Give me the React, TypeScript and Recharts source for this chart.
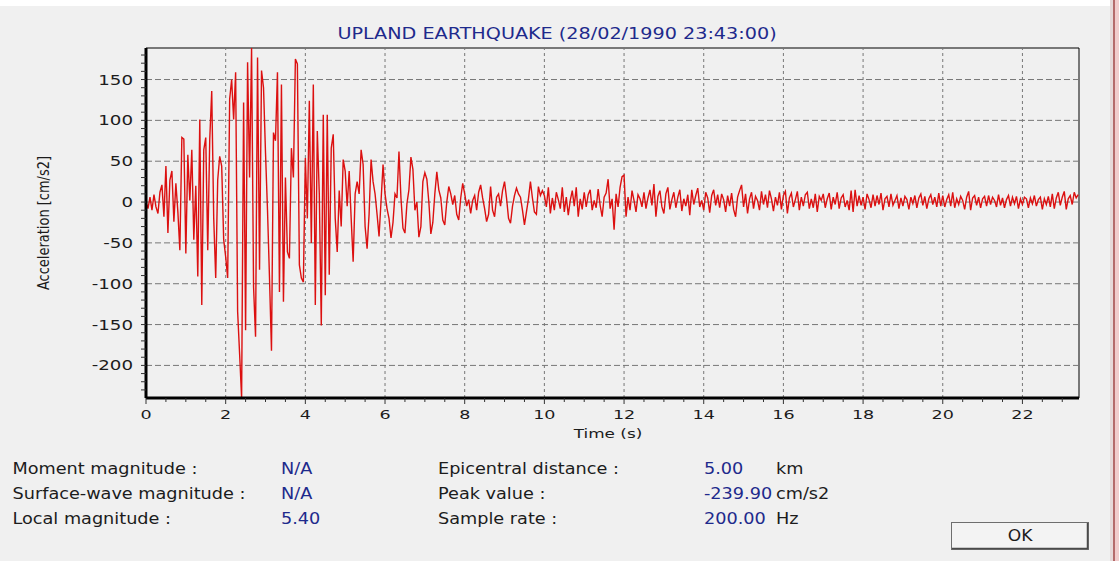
import React from 'react';
import { LineChart, Line, XAxis, YAxis, ReferenceLine, ReferenceArea } from 'recharts';

// Accelerogram samples, cm/s2, one value every STEP_S seconds per segment
const STEP_S = 0.05;

const onsetStart = 0;
const onsetAccel = [
  0, -8, 6, -10, 9, -6, -14, 12, 21, -18,
  44, -38, 27, 38, -24, 23, -12, -59, 79, 77,
  -63, 58, 2, 64, -46, 20, -91, 101, -126, 64,
  79, -59, 77, 136, -20, -93, 27, 56, 44, -46,
];

const strongStart = 2;
const strongAccel = [
  -67, -93, 126, 150, 101, 159, -134, -186, -239.9, 122,
  -157, 171, 30, 188.6, -104, -165, 177, -83, 161, 140,
  60, -10, -93, -182, 85, 75, 159, -110, 144, -122,
  30, -61, -69, 66, 30, 175, 169, -77, -93, -98,
  54, -20, 124, -50, 144, -126, 87, 10, -151, 107,
  -114, 107, -89, 66, 83, -20, -61, 14, -30, 52,
];

const codaStart = 5;
const codaAccel = [
  38, -5, 38, -20, -73, 10, 25, 10, 64, 46,
  -30, -57, -15, 52, 25, 10, -15, -42, 1, 46,
  10, -8, -20, -44, -25, 10, 5, 62, 5, -32,
  -38, -2, 15, 55, 40, -10, 0, -43, -30, 25,
  36, 28, 0, -39, -25, 10, 37, 15, 5, -22,
  -28, 0, 19, 10, -3, 8, -15, -22, 5, 23,
  10, -5, 3, -14, 2, 8, -10, 12, 21, 5,
  -8, -24, -15, 19, -10, -18, 6, 10, -5, 14,
  25, 5, -20, -26, -5, 8, 17, 10, 6, -10,
  -28, -12, 4, 25, 5, -12, -15, 19, 8, 14,
];

const tailAStart = 10;
const tailAAccel = [
  8, -6, 18, -14, 5, -10, 12, 3, -8, 18, -12, 6, -16, 2, 14, -5, 18, -18, 4, -9,
  12, -6, 9, 15, -10, 2, -7, 16, -4, -18, 6, 11, 28, -8, 4, -34, 10, -6, 18, 31,
  33, -18, 6, -10, 14, 2, -12, 9, 4, -6, 12, -8, 5, 15, -4, 22, -18, 7, 14, -6,
  -14, 10, 18, -9, 3, 12, -7, 6, 15, -11, 4, -5, 9, -16, 15, -3, 8, 17, -6, 2,
  -10, 12, 5, -13, 8, 15, -4, 9, -7, 10, 3, -12, 8, -5, 11, -9, -18, 6, 14, 21,
  -6, 10, -14, 4, 12, -8, 7, 2, -10, 13, -3, 9, -7, 14, 4, -11, 6, -4, 12, -9,
  8, 13, -14, 5, 11, -6, 3, 13, -10, 6, -5, 9, 12, -8, 4, -7, 10, -12, 7, 2,
];

const tailBStart = 17;
const tailBAccel = [
  10, -7, 4, 11, -9, 6, -3, 12, -8, 5, 9, -6, 2, -10, 14, -12, 15, -5, 8, -4,
  6, -9, 10, 3, -7, 9, -5, 8, -3, 11, -10, 4, 7, -6, 10, -4, 2, 8, -8, 5,
  -5, 7, 3, -9, 6, -2, 8, -7, 5, 10, -4, 7, -8, 4, 9, -3, 6, -6, 11, -5,
  8, -6, 3, 9, -5, 12, -7, 4, -3, 7, 2, -9, 6, 13, -10, 5, 8, -4, 6, -7,
  4, 7, -5, 8, -3, 6, 2, -6, 9, -4, 5, -7, 3, 8, -5, 6, -2, 7, -8, 4,
  -3, 6, 4, -7, 5, -2, 8, -5, 3, 6, -9, 4, -3, 7, -6, 10, -8, 5, 12, -4,
  6, 13, -9, 4, 8, -3, 12, 5, 9,
];

const recordEnd = 23.42;
const timeLabels = [0, 2, 4, 6, 8, 10, 12, 14, 16, 18, 20, 22];
const accelLabels = [-200, -150, -100, -50, 0, 50, 100, 150];

const title = 'UPLAND EARTHQUAKE (28/02/1990 23:43:00)';
const magnitudeFields = [
  ['Moment magnitude :', 'N/A'],
  ['Surface-wave magnitude :', 'N/A'],
  ['Local magnitude :', '5.40'],
];
const recordFields = [
  ['Epicentral distance :', '5.00', 'km'],
  ['Peak value :', '-239.90', 'cm/s2'],
  ['Sample rate :', '200.00', 'Hz'],
];

const segments: [number, number[]][] = [
  [onsetStart, onsetAccel],
  [strongStart, strongAccel],
  [codaStart, codaAccel],
  [tailAStart, tailAAccel],
  [tailBStart, tailBAccel],
];

const record = segments.flatMap(([start, vals]) =>
  vals.map((a, i) => ({ t: Math.round((start + i * STEP_S) * 100) / 100, a }))
);

const allAccel = segments.flatMap(([, v]) => v);
const accelMin = Math.min(...allAccel);
const accelMax = Math.max(...allAccel);

// minor tick positions: every 10 cm/s2 and every 0.5 s
const accelTicks: number[] = [];
for (let v = Math.ceil(accelMin / 10) * 10; v <= accelMax; v += 10) accelTicks.push(v);
const timeTicks: number[] = [];
for (let k = 0; k * 0.5 <= recordEnd; k++) timeTicks.push(k * 0.5);

const FONT = '"DejaVu Sans", Verdana, sans-serif';
const NAVY = '#1e2a8c';
const INK = '#1c1c1c';

function Txt(props: {
  x: number; y: number; size: number; sx?: number; anchor?: 'start' | 'middle' | 'end';
  fill?: string; children: React.ReactNode;
}) {
  const { x, y, size, sx = 1, anchor = 'start', fill = INK, children } = props;
  return (
    <text
      transform={`translate(${x} ${y}) scale(${sx} 1)`}
      textAnchor={anchor}
      fontSize={size}
      fontFamily={FONT}
      fill={fill}
    >
      {children}
    </text>
  );
}

const TimeTick = (props: any) => {
  const { x, y, payload } = props;
  const v = payload.value as number;
  const major = Math.abs(v / 2 - Math.round(v / 2)) < 1e-6;
  return (
    <g>
      <line x1={x} x2={x} y1={y} y2={y + (major ? 6 : 4)} stroke="#333" strokeWidth={1} />
      {major && (
        <Txt x={x} y={y + 21} size={13} sx={1.35} anchor="middle">
          {v}
        </Txt>
      )}
    </g>
  );
};

const AccelTick = (props: any) => {
  const { x, y, payload } = props;
  const v = payload.value as number;
  const major = v % 50 === 0;
  return (
    <g>
      <line x1={x - 5} x2={x} y1={y} y2={y} stroke="#333" strokeWidth={1} />
      {major && (
        <Txt x={x - 13} y={y + 5} size={13.5} sx={1.35} anchor="end">
          {v}
        </Txt>
      )}
    </g>
  );
};

export default function App() {
  return (
    <div
      style={{
        position: 'absolute',
        left: 0,
        top: 0,
        width: 1119,
        height: 561,
        overflow: 'hidden',
        background: '#f0f0f0',
      }}
    >
      {/* dialog chrome and static captions */}
      <svg width={1119} height={561} style={{ position: 'absolute', left: 0, top: 0 }}>
        <rect x={0} y={0} width={1119} height={6} fill="#ffffff" />
        <rect x={1110} y={0} width={3} height={561} fill="#e6d8d8" />
        <rect x={1113} y={0} width={2} height={561} fill="#b56a6a" />
        <rect x={1115} y={0} width={4} height={561} fill="#f1cccc" />

        <Txt x={557} y={39} size={16} sx={1.2} anchor="middle" fill={NAVY}>
          {title}
        </Txt>

        <text
          transform="translate(49 223) rotate(-90) scale(1 1.2)"
          textAnchor="middle"
          fontSize={13}
          fontFamily={FONT}
          fill={INK}
        >
          Acceleration [cm/s2]
        </text>

        <Txt x={608} y={438} size={12.5} sx={1.35} anchor="middle">
          Time (s)
        </Txt>

        {magnitudeFields.map(([label, value], i) => (
          <g key={label}>
            <Txt x={12.5} y={474 + i * 25} size={15.5} sx={1.14}>
              {label}
            </Txt>
            <Txt x={281} y={474 + i * 25} size={15.5} sx={1.14} fill={NAVY}>
              {value}
            </Txt>
          </g>
        ))}
        {recordFields.map(([label, value, unit], i) => (
          <g key={label}>
            <Txt x={438} y={474 + i * 25} size={15.5} sx={1.14}>
              {label}
            </Txt>
            <Txt x={704} y={474 + i * 25} size={15.5} sx={1.14} fill={NAVY}>
              {value}
            </Txt>
            <Txt x={776} y={474 + i * 25} size={15.5} sx={1.14}>
              {unit}
            </Txt>
          </g>
        ))}

        <rect x={951.5} y={522.5} width={137} height={27} fill="#f3f3f3" stroke="#6e6e6e" strokeWidth={1} />
        <line x1={952} x2={1088} y1={548.5} y2={548.5} stroke="#4a4a4a" strokeWidth={1.5} />
        <line x1={1087.5} x2={1087.5} y1={523} y2={549} stroke="#4a4a4a" strokeWidth={1.5} />
        <Txt x={1020} y={541} size={15} sx={1.14} anchor="middle">
          OK
        </Txt>
      </svg>

      <div style={{ position: 'absolute', left: 0, top: 0 }}>
        <LineChart
          width={1119}
          height={561}
          data={record}
          margin={{ top: 48, right: 40, bottom: 0, left: 0 }}
        >
          <XAxis
            type="number"
            dataKey="t"
            domain={[0, recordEnd]}
            ticks={timeTicks}
            interval={0}
            height={163}
            tickSize={0}
            tickMargin={0}
            tickLine={false}
            tick={<TimeTick />}
            axisLine={{ stroke: '#000', strokeWidth: 3 }}
          />
          <YAxis
            type="number"
            dataKey="a"
            domain={[accelMin, accelMax]}
            ticks={accelTicks}
            interval={0}
            width={146}
            tickSize={0}
            tickMargin={0}
            tickLine={false}
            tick={<AccelTick />}
            axisLine={{ stroke: '#000', strokeWidth: 3 }}
          />
          {accelLabels.map((v) => (
            <ReferenceLine
              key={`h${v}`}
              y={v}
              stroke="#777777"
              strokeWidth={1}
              strokeDasharray="6 3"
            />
          ))}
          {timeLabels
            .filter((v) => v > 0)
            .map((v) => (
              <ReferenceLine
                key={`v${v}`}
                x={v}
                stroke="#777777"
                strokeWidth={1}
                strokeDasharray="3 3"
              />
            ))}
          <ReferenceArea
            x1={0}
            x2={recordEnd}
            y1={accelMin}
            y2={accelMax}
            fill="none"
            stroke="#000"
            strokeWidth={1}
          />
          <Line
            type="linear"
            dataKey="a"
            stroke="#dc1010"
            strokeWidth={1.4}
            dot={false}
            isAnimationActive={false}
          />
        </LineChart>
      </div>
    </div>
  );
}
